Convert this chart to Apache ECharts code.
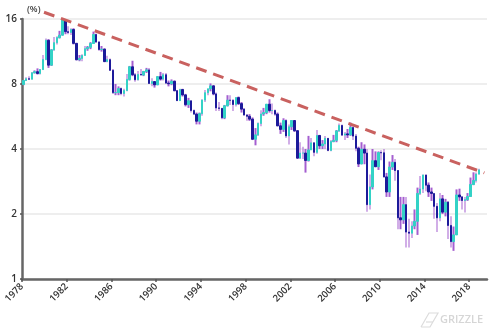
<!DOCTYPE html>
<html>
<head>
<meta charset="utf-8">
<script src="https://cdn.jsdelivr.net/npm/echarts@6/dist/echarts.min.js"></script>
<style>
html,body{margin:0;padding:0;background:#fff;}
#c{width:500px;height:334px;}
</style>
</head>
<body>
<div id="c"></div>
<script>
// Quarterly US 10-year yield candles (%)
const quarters = [];
for (let y = 1978; y <= 2018; y++) for (let q = 1; q <= 4; q++) quarters.push(y + 'Q' + q);

const open = [
7.96,8.30,8.46,8.42, 9.01,9.12,8.95,9.33, 10.39,12.75,9.78,11.51, 12.43,13.12,13.47,15.84,
13.98,13.86,14.30,12.34, 10.36,10.51,10.85,11.65, 11.83,12.32,13.56,12.53, 11.55,11.60,10.16,10.37,
9.26,7.30,7.30,7.62, 7.23,7.46,8.40,9.61, 8.83,8.37,8.85,8.80, 9.14,9.30,8.05,8.21,
7.93,8.65,8.43,8.83, 8.08,8.02,8.24,7.45, 6.70,7.54,7.12,6.42, 6.69,6.03,5.80,5.38,
5.83,6.74,7.29,7.60, 7.84,7.20,6.20,6.17, 5.58,6.34,6.73,6.72, 6.43,6.92,6.49,6.12,
5.75,5.67,5.50,4.44, 4.65,5.25,5.81,5.90, 6.45,6.03,6.03,5.80, 5.12,4.93,5.42,4.60,
5.07,5.42,4.86,3.63, 3.83,3.83,3.54,3.96, 4.27,3.86,4.62,4.14, 4.22,4.48,3.94,4.33,
4.39,4.85,5.14,4.64, 4.70,4.65,5.03,4.59, 4.03,3.41,3.99,3.83, 2.21,2.67,3.53,3.31,
3.85,3.84,2.97,2.53, 3.30,3.47,3.18,1.92, 1.88,2.21,1.65,1.63, 1.76,1.85,2.49,2.61,
3.03,2.72,2.53,2.49, 2.17,1.92,2.35,2.04, 2.27,1.77,1.49,1.60, 2.45,2.40,2.31,2.33,
2.41,2.74,2.86,3.06
];
const close = [
8.30,8.46,8.42,9.01, 9.12,8.95,9.33,10.39, 12.75,9.78,11.51,12.43, 13.12,13.47,15.84,13.98,
13.86,14.30,12.34,10.36, 10.51,10.85,11.65,11.83, 12.32,13.56,12.53,11.55, 11.60,10.16,10.37,9.26,
7.30,7.30,7.62,7.23, 7.46,8.40,9.61,8.83, 8.37,8.85,8.80,9.14, 9.30,8.05,8.21,7.93,
8.65,8.43,8.83,8.08, 8.02,8.24,7.45,6.70, 7.54,7.12,6.42,6.69, 6.03,5.80,5.38,5.83,
6.74,7.29,7.60,7.84, 7.20,6.20,6.17,5.58, 6.34,6.73,6.72,6.43, 6.92,6.49,6.12,5.75,
5.67,5.50,4.44,4.65, 5.25,5.81,5.90,6.45, 6.03,6.03,5.80,5.12, 4.93,5.42,4.60,5.07,
5.42,4.86,3.63,3.83, 3.83,3.54,3.96,4.27, 3.86,4.62,4.14,4.22, 4.48,3.94,4.33,4.39,
4.85,5.14,4.64,4.70, 4.65,5.03,4.59,4.03, 3.41,3.99,3.83,2.21, 2.67,3.53,3.31,3.85,
3.84,2.97,2.53,3.30, 3.47,3.18,1.92,1.88, 2.21,1.65,1.63,1.76, 1.85,2.49,2.61,3.03,
2.72,2.53,2.49,2.17, 1.92,2.35,2.04,2.27, 1.77,1.49,1.60,2.45, 2.40,2.31,2.33,2.41,
2.74,2.86,3.06,3.20
];
const low = [
7.90,8.25,8.35,8.40, 8.95,8.85,8.85,9.30, 10.30,9.50,9.70,11.40, 12.20,13.00,13.40,13.60,
13.60,13.50,12.20,10.30, 10.20,10.20,10.80,11.40, 11.60,12.30,12.40,11.40, 11.30,10.10,10.10,9.20,
7.20,7.10,7.10,7.10, 7.00,7.40,8.30,8.70, 8.20,8.30,8.80,8.70, 9.00,8.00,7.80,7.70,
7.90,8.30,8.30,8.00, 7.80,7.90,7.40,6.70, 6.70,7.00,6.30,6.20, 5.90,5.80,5.20,5.20,
5.70,6.60,7.10,7.40, 7.10,6.00,6.00,5.50, 5.50,6.30,6.40,6.00, 6.30,6.40,5.90,5.70,
5.40,5.40,4.40,4.16, 4.60,5.10,5.70,5.80, 5.90,5.80,5.70,5.10, 4.70,4.80,4.50,4.20,
4.90,4.80,3.60,3.60, 3.60,3.11,3.50,4.00, 3.70,3.80,4.00,4.00, 4.00,3.90,3.90,4.30,
4.30,4.80,4.60,4.40, 4.50,4.60,4.40,3.90, 3.30,3.40,3.40,2.05, 2.10,2.60,3.30,3.20,
3.55,2.95,2.40,2.40, 3.20,2.85,1.70,1.70, 1.80,1.40,1.40,1.55, 1.70,1.60,2.45,2.50,
2.55,2.40,2.30,1.90, 1.65,1.85,2.00,1.95, 1.53,1.40,1.35,1.60, 2.30,2.10,2.03,2.30,
2.40,2.72,2.80,3.05
];
const high = [
8.35,8.60,8.70,9.10, 9.25,9.45,9.40,10.90, 13.00,12.90,11.60,13.20, 13.30,14.10,15.90,15.90,
14.80,14.50,14.50,12.40, 10.90,11.00,12.00,12.00, 12.50,13.99,13.70,12.60, 12.00,11.70,10.80,10.50,
9.40,8.00,7.80,7.70, 7.60,8.90,9.70,10.25, 9.00,9.20,9.40,9.20, 9.50,9.50,8.50,8.21,
8.70,9.10,9.00,9.00, 8.30,8.40,8.30,7.50, 7.60,7.60,7.20,6.90, 6.70,6.10,5.90,5.90,
6.80,7.50,7.60,8.05, 7.90,7.30,6.60,6.20, 6.40,7.10,7.10,6.80, 6.95,7.00,6.60,6.20,
5.80,5.80,5.60,5.00, 5.30,6.05,6.20,6.45, 6.80,6.50,6.10,5.90, 5.30,5.55,5.50,5.20,
5.45,5.40,4.90,4.30, 4.10,4.00,4.60,4.50, 4.30,4.90,4.65,4.40, 4.60,4.50,4.40,4.65,
4.90,5.25,5.20,4.80, 4.95,5.30,5.10,4.70, 4.10,4.30,4.20,4.00, 3.05,4.00,3.90,3.90,
3.95,4.00,3.10,3.50, 3.75,3.60,3.20,2.40, 2.40,2.40,1.90,1.85, 2.10,2.65,3.00,3.05,
3.05,2.80,2.65,2.45, 2.25,2.50,2.45,2.35, 2.30,1.95,1.75,2.60, 2.62,2.42,2.40,2.50,
2.95,3.12,3.11,3.24
];
const yTicks = [1, 2, 4, 8, 16];
const xTickYears = [1978,1982,1986,1990,1994,1998,2002,2006,2010,2014,2018];
const trendYears = [1979.97, 2019.36];
const trendValues = [17.2, 3.10];

const BASE = 1978;
const xOf = (s) => { const y = +s.slice(0,4), q = +s.slice(5); return y + (q - 0.5) / 4 - BASE; };

const wickData = quarters.map((s, i) => [xOf(s), low[i], high[i], low[i], high[i]]);
const bodyData = quarters.map((s, i) => [xOf(s), open[i], close[i], Math.min(open[i], close[i]), Math.max(open[i], close[i])]);
const trendData = trendYears.map((y, i) => [y - BASE, trendValues[i]]);
const tickVals = xTickYears.map(y => y - BASE);

const chart = echarts.init(document.getElementById('c'), null, {renderer: 'canvas'});
chart.setOption({
  animation: false,
  backgroundColor: '#ffffff',
  grid: {left: 22, right: 13, top: 19, bottom: 55, containLabel: false},
  xAxis: {
    type: 'value', min: 0, max: 41.6, interval: 4,
    axisLine: {show: true, lineStyle: {color: '#666', width: 2.5}},
    axisTick: {show: true, length: 3, lineStyle: {color: '#555', width: 1.5}, customValues: tickVals},
    axisLabel: {
      rotate: 45, fontSize: 9.5, color: '#333', fontFamily: 'Open Sans', fontWeight: 600, margin: 6,
      customValues: tickVals,
      formatter: (v) => (Math.abs(v % 4) < 1e-6 ? String(Math.round(v + BASE)) : '')
    },
    splitLine: {show: false}
  },
  yAxis: {
    type: 'log', logBase: 2, min: 1, max: 16,
    axisLine: {show: true, lineStyle: {color: '#666', width: 2.5}},
    axisTick: {show: true, length: 2, lineStyle: {color: '#555', width: 1.5}},
    axisLabel: {fontSize: 10, color: '#333', fontFamily: 'Open Sans', fontWeight: 600, margin: 5,
      formatter: (v) => String(Math.round(v))},
    splitLine: {show: true, lineStyle: {color: '#e8e8e8', width: 1.5}}
  },
  graphic: [
    {type: 'text', left: 27, top: 5, style: {text: '(%)', fontSize: 9, fill: '#444', fontFamily: 'Open Sans', fontWeight: 600}},
    {type: 'polyline', shape: {points: [[421,327],[429,313],[438,313],[430,327],[421,327]]}, style: {stroke: '#dcdcdc', fill: null, lineWidth: 1.2}},
    {type: 'polyline', shape: {points: [[426,322],[433,322]]}, style: {stroke: '#dcdcdc', lineWidth: 1.2}},
    {type: 'text', left: 440, top: 314, style: {text: 'GRIZZLE', fontSize: 11, fill: '#d6d6d6', fontFamily: 'Open Sans', fontWeight: 600, letterSpacing: 1.5}}
  ],
  series: [
    {
      type: 'candlestick', name: 'range', data: wickData, barWidth: 2, z: 2,
      itemStyle: {color: '#a45ed0', color0: '#a45ed0', borderColor: '#a45ed0', borderColor0: '#a45ed0', borderWidth: 0},
      encode: {x: 0, y: [1, 2, 3, 4]}
    },
    {
      type: 'candlestick', name: 'body', data: bodyData, barWidth: 2, z: 3,
      itemStyle: {color: '#33d2c6', color0: '#1c1a9a', borderColor: '#33d2c6', borderColor0: '#1c1a9a', borderWidth: 1},
      encode: {x: 0, y: [1, 2, 3, 4]}
    },
    {
      type: 'line', name: 'trend', data: trendData, clip: false, symbol: 'none', z: 5,
      lineStyle: {color: '#c9615f', width: 3, type: [11, 7]}
    }
  ]
});
</script>
</body>
</html>
